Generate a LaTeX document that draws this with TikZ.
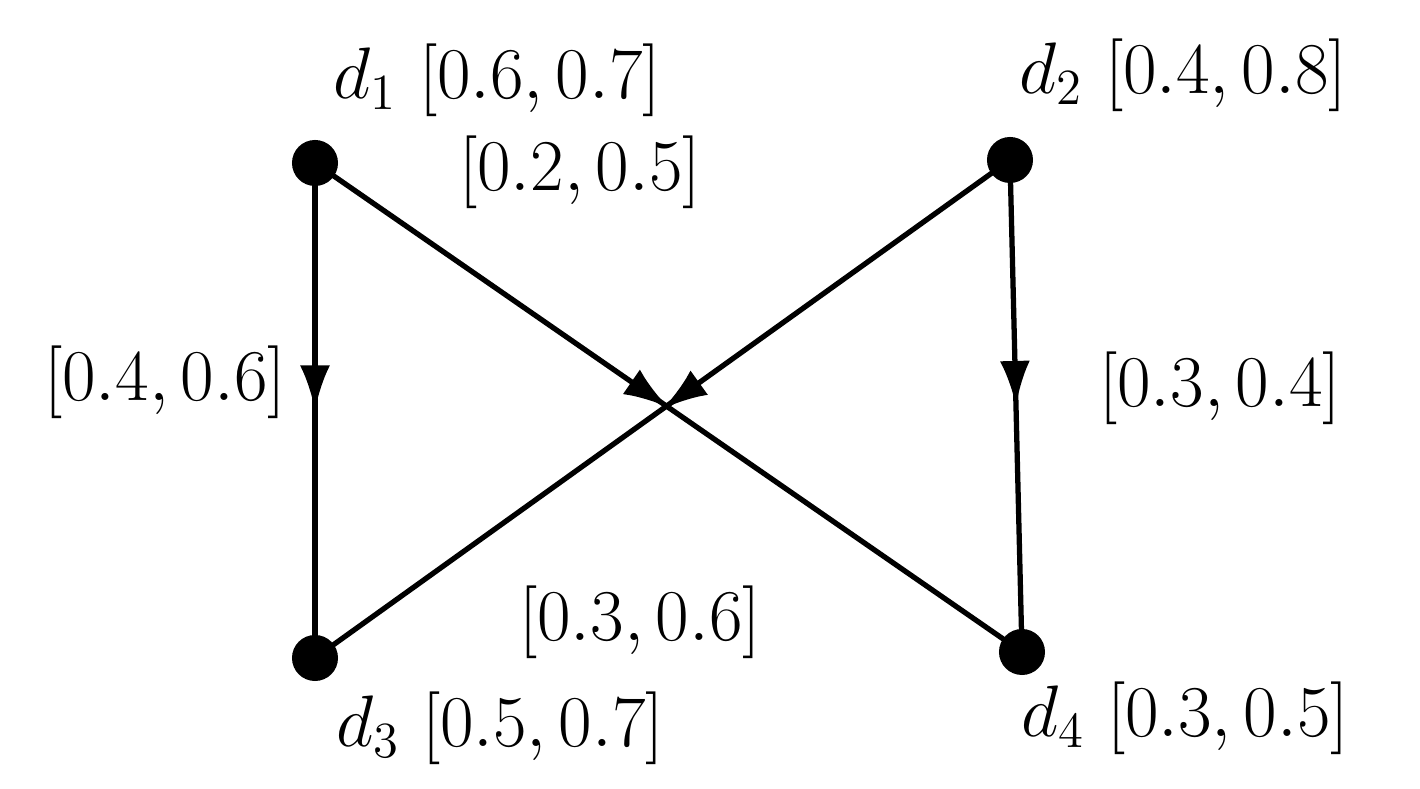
\documentclass[tikz,border=0pt]{standalone}
\usetikzlibrary{decorations.markings,arrows.meta}
\begin{document}
\begin{tikzpicture}[x=0.01cm,y=-0.01cm,
  dot/.style={circle,fill=black,minimum size=0.46cm,inner sep=0pt},
  lbl/.style={font=\fontsize{21}{25}\selectfont},
  edge/.style={line width=1.5pt,postaction={decorate},decoration={markings,mark=at position 0.5 with {\arrow{Latex[length=0.45cm,width=0.3cm]}}}}]
\useasboundingbox (0,0) rectangle (1420,789);
\node[dot] (d1) at (315,163) {};
\node[dot] (d2) at (1010,160) {};
\node[dot] (d3) at (315,658) {};
\node[dot] (d4) at (1022,652) {};
\draw[edge] (d1.center) -- (d3.center);
\draw[edge] (d2.center) -- (d4.center);
\draw[edge] (d1.center) -- (d4.center);
\draw[edge] (d2.center) -- (d3.center);
\node[lbl] (l1) at (497,80) {$d_1$ $[0.6,0.7]$};
\node[lbl] (l2) at (1183,75) {$d_2$ $[0.4,0.8]$};
\node[lbl] (l3) at (500,728) {$d_3$ $[0.5,0.7]$};
\node[lbl] (l4) at (1185,718) {$d_4$ $[0.3,0.5]$};
\node[lbl] (e14) at (580,172) {$[0.2,0.5]$};
\node[lbl] (e13) at (165,382) {$[0.4,0.6]$};
\node[lbl] (e24) at (1220,388) {$[0.3,0.4]$};
\node[lbl] (e23) at (640,622) {$[0.3,0.6]$};
\end{tikzpicture}
\end{document}
